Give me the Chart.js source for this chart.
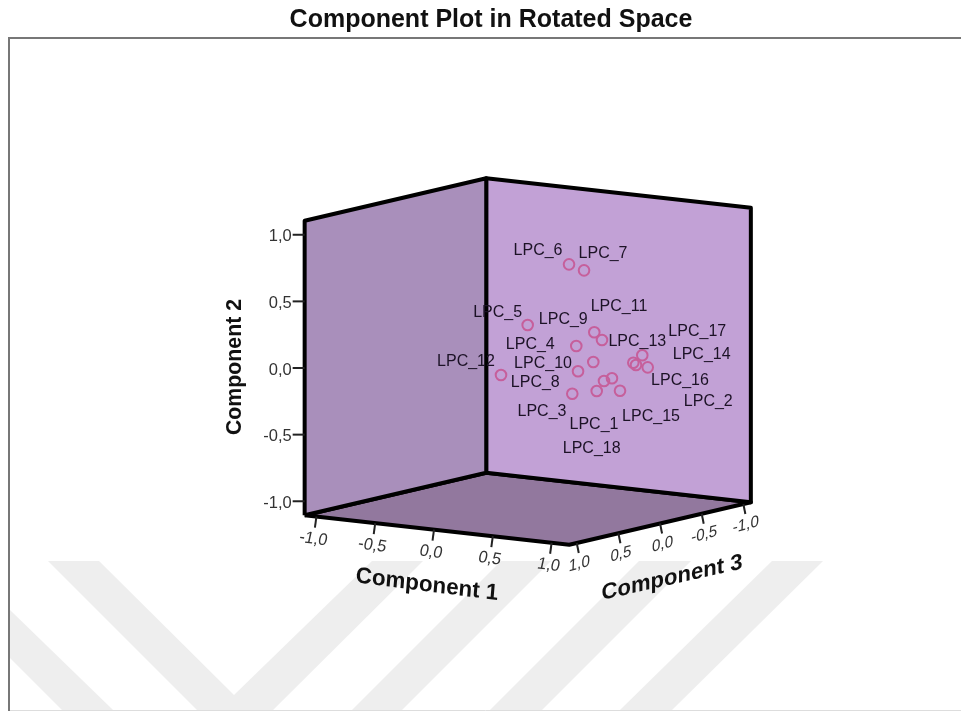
<!DOCTYPE html>
<html>
<head>
<meta charset="utf-8">
<title>Component Plot in Rotated Space</title>
<script src="https://cdn.jsdelivr.net/npm/chart.js@4/dist/chart.umd.min.js"></script>
<style>
  body { margin: 0; background: #fff; }
  canvas { display: block; filter: blur(0.4px); }
</style>
</head>
<body>
<canvas id="plot3d" width="961" height="711"></canvas>
<script>
var labels = ["LPC_6","LPC_7","LPC_5","LPC_9","LPC_11","LPC_4","LPC_13","LPC_10","LPC_12","LPC_8","LPC_18","LPC_1","LPC_3","LPC_15","LPC_17","LPC_2","LPC_16","LPC_14"];
var comp1 = [0.40,0.50,0.20,0.60,0.65,0.50,0.60,0.50,0.10,0.50,0.60,0.65,0.70,0.75,0.85,0.80,0.82,0.88];
var comp2 = [0.771,0.730,0.327,0.278,0.221,0.176,0.056,-0.017,-0.031,-0.175,-0.167,-0.090,-0.068,-0.160,0.097,0.042,0.026,0.006];
var comp3 = [0.034,-0.005,0.248,0.013,-0.009,0.088,0.025,0.067,0.427,0.136,-0.016,-0.033,-0.058,-0.084,-0.210,-0.173,-0.177,-0.233];
var tickValues = [-1.0,-0.5,0.0,0.5,1.0];

// where each name sits relative to its circle
var labelDx = [-31,19,-30,-31,17,-46,44,-35,-35,-37,-5,-10,-70,31,55,75,44,54];
var labelDy = [-14,-17,-12,-13,-33,-1,-20,-8,-13,-11,58,44,33,26,-24,39,16,-13];

var c1Min = -1.1, c1Max = 1.15, c2Max = 1.105, c3Max = 1.09;

// view of the box, in units of component 2
function project(c1, c2, c3) {
  var d = c1 - 0.025;
  return { x: 0.8826 * d - 0.6251 * c3, y: c2 - 0.0983 * d - 0.1463 * c3 };
}

function polygon(corners) {
  return corners.map(function (c) { return project(c[0], c[1], c[2]); });
}

var leftWall = polygon([[c1Min,-c2Max,c3Max],[c1Min,c2Max,c3Max],[c1Min,c2Max,-c3Max],[c1Min,-c2Max,-c3Max],[c1Min,-c2Max,c3Max]]);
var rightWall = polygon([[c1Min,-c2Max,-c3Max],[c1Min,c2Max,-c3Max],[c1Max,c2Max,-c3Max],[c1Max,-c2Max,-c3Max],[c1Min,-c2Max,-c3Max]]);
var floorWall = polygon([[c1Min,-c2Max,c3Max],[c1Min,-c2Max,-c3Max],[c1Max,-c2Max,-c3Max],[c1Max,-c2Max,c3Max],[c1Min,-c2Max,c3Max]]);

var points = labels.map(function (l, i) { return project(comp1[i], comp2[i], comp3[i]); });

function wall(data, color) {
  return {
    data: data, showLine: true, fill: 'shape', backgroundColor: color,
    borderColor: '#000', borderWidth: 4, borderJoinStyle: 'round',
    pointRadius: 0, tension: 0, order: 2
  };
}

// grey watermark behind the plot and the frame round it
var watermark = [
  [[48,561],[99,561],[234,695],[372,561],[423,561],[273,710],[197,710]],
  [[10,610],[113,710],[62,710],[10,658]],
  [[501,561],[551,561],[402,710],[352,710]],
  [[639,561],[691,561],[542,710],[490,710]],
  [[772,561],[823,561],[672,710],[620,710]]
];

var backdrop = {
  id: 'backdrop',
  beforeDraw: function (chart) {
    var ctx = chart.ctx;
    ctx.save();
    ctx.fillStyle = '#fff';
    ctx.fillRect(0, 0, 961, 711);
    ctx.fillStyle = '#eeeeee';
    watermark.forEach(function (shape) {
      ctx.beginPath();
      shape.forEach(function (p, i) { i ? ctx.lineTo(p[0], p[1]) : ctx.moveTo(p[0], p[1]); });
      ctx.closePath();
      ctx.fill();
    });
    ctx.strokeStyle = '#777';
    ctx.lineWidth = 2;
    ctx.beginPath();
    ctx.moveTo(9, 711);
    ctx.lineTo(9, 38);
    ctx.lineTo(961, 38);
    ctx.stroke();
    ctx.strokeStyle = '#ddd';
    ctx.lineWidth = 1;
    ctx.beginPath();
    ctx.moveTo(10, 710.5);
    ctx.lineTo(961, 710.5);
    ctx.stroke();
    ctx.restore();
  }
};

function skewText(ctx, text, x, y, m, font, color) {
  ctx.save();
  ctx.font = font;
  ctx.fillStyle = color;
  ctx.textAlign = 'center';
  ctx.textBaseline = 'middle';
  ctx.transform(m[0], m[1], m[2], m[3], x, y);
  ctx.fillText(text, 0, 0);
  ctx.restore();
}

function tickText(v) {
  return v.toFixed(1).replace('.', ',');
}

var boxText = {
  id: 'boxText',
  afterDatasetsDraw: function (chart) {
    var ctx = chart.ctx, sx = chart.scales.x, sy = chart.scales.y;
    function px(c1, c2, c3) {
      var p = project(c1, c2, c3);
      return { x: sx.getPixelForValue(p.x), y: sy.getPixelForValue(p.y) };
    }
    function tick(p, dx, dy) {
      ctx.beginPath();
      ctx.moveTo(p.x, p.y);
      ctx.lineTo(p.x + dx, p.y + dy);
      ctx.stroke();
    }
    var font = '16.5px "Liberation Sans"', dark = '#333';

    ctx.save();
    ctx.strokeStyle = '#222';
    ctx.lineWidth = 2;
    tickValues.forEach(function (v) {
      var a = px(c1Min, v, c3Max);
      tick(a, -12, 0);
      ctx.font = '16.5px "Liberation Sans"';
      ctx.fillStyle = dark;
      ctx.textAlign = 'right';
      ctx.textBaseline = 'middle';
      ctx.fillText(tickText(v), a.x - 13, a.y + 2);

      var b = px(v, -c2Max, c3Max);
      tick(b, -1.5, 11);
      skewText(ctx, tickText(v), b.x - 3, b.y + 22.5, [0.98, 0.13, -0.22, 1], font, dark);

      var c = px(c1Max, -c2Max, v);
      tick(c, 2, 10);
      skewText(ctx, tickText(v), c.x + 2.5, c.y + 21, [0.92, -0.25, -0.05, 1], font, dark);
    });
    ctx.restore();

    // names of the points
    ctx.save();
    ctx.font = '16px "Liberation Sans"';
    ctx.fillStyle = '#1c1226';
    ctx.textAlign = 'center';
    ctx.textBaseline = 'middle';
    labels.forEach(function (l, i) {
      var p = px(comp1[i], comp2[i], comp3[i]);
      ctx.fillText(l, p.x + labelDx[i], p.y + labelDy[i]);
    });
    ctx.restore();

    // axis titles
    skewText(ctx, 'Component 1', 427, 585, [0.99, 0.124, -0.08, 1], 'bold 22.5px "Liberation Sans"', '#111');
    skewText(ctx, 'Component 3', 672, 578, [0.98, -0.219, 0, 1], 'bold 22.5px "Liberation Sans"', '#111');
    skewText(ctx, 'Component 2', 235, 367, [0, -1, 1, 0], 'bold 21.3px "Liberation Sans"', '#111');

    ctx.save();
    ctx.font = 'bold 25px "Liberation Sans"';
    ctx.fillStyle = '#111';
    ctx.textAlign = 'center';
    ctx.textBaseline = 'middle';
    ctx.fillText('Component Plot in Rotated Space', 491, 20.5);
    ctx.restore();
  }
};

new Chart(document.getElementById('plot3d'), {
  type: 'scatter',
  data: {
    datasets: [
      {
        data: points, pointStyle: 'circle', pointRadius: 5.3, borderWidth: 2,
        pointBackgroundColor: 'rgba(0,0,0,0)', pointBorderColor: '#c65f9b', order: 0
      },
      wall(leftWall, '#a98fbb'),
      wall(rightWall, '#c2a1d6'),
      wall(floorWall, '#92789e')
    ]
  },
  plugins: [backdrop, boxText],
  options: {
    responsive: false,
    animation: false,
    clip: false,
    layout: { padding: 0, autoPadding: false },
    plugins: { legend: { display: false }, tooltip: { enabled: false }, title: { display: false } },
    scales: {
      x: { type: 'linear', display: false, min: -3.9606, max: 3.2514 },
      y: { type: 'linear', display: false, min: -2.6229, max: 2.7129 }
    }
  }
});
</script>
</body>
</html>
